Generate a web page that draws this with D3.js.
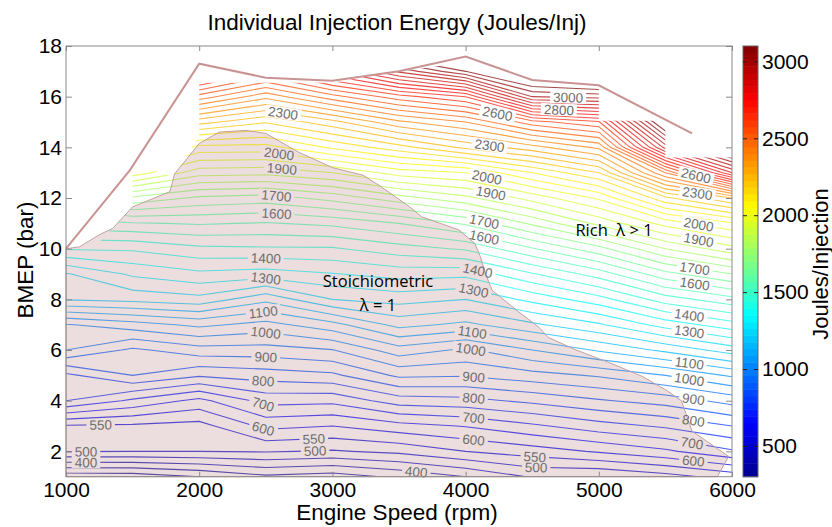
<!DOCTYPE html>
<html>
<head>
<meta charset="utf-8">
<script src="https://cdn.jsdelivr.net/npm/d3@7"></script>
<style>
  body { margin: 0; background: #fff; }
  svg text { font-family: "Liberation Sans", Arial, sans-serif; }
</style>
</head>
<body>
<div id="chart"></div>
<script>
// grid columns (rpm) and rows (bar)
const speeds = [1000, 1500, 2000, 2500, 3000, 3500, 4000, 4500, 5000, 5500, 6000];
const bmepRows = [1, 2, 3, 4, 5, 6, 7, 8, 9, 10, 11, 12, 13, 14, 15, 16, 17, 18];

// injection energy (J/inj) at each bmep row, one array per speed column
const e1000 = [265, 502, 544, 750, 788, 950, 996, 1204, 1245, 1405, 1530, 1660, 1790, 1920, 2050, 2180, 2310, 2440];
const e1500 = [270, 500, 540, 690, 850, 890, 1028, 1216, 1309, 1408, 1545, 1740, 1980, 2150, 2320, 2490, 2660, 2830];
const e2000 = [300, 500, 531, 635, 807, 929, 1062, 1233, 1338, 1438, 1555, 1690, 1872, 2033, 2270, 2528, 2800, 3050];
const e2500 = [340, 504, 614, 718, 824, 929, 1032, 1164, 1327, 1443, 1546, 1676, 1866, 2030, 2205, 2415, 2650, 2900];
const e3000 = [325, 495, 600, 714, 839, 948, 1082, 1250, 1347, 1444, 1562, 1718, 1900, 2109, 2283, 2529, 2800, 3050];
const e3500 = [360, 512, 631, 775, 910, 1028, 1167, 1270, 1370, 1478, 1600, 1780, 1973, 2180, 2389, 2629, 2960, 3250];
const e4000 = [400, 550, 653, 784, 904, 991, 1137, 1250, 1365, 1507, 1658, 1836, 2000, 2262, 2450, 2700, 3100, 3350];
const e4500 = [455, 575, 690, 812, 930, 1050, 1190, 1315, 1445, 1595, 1760, 1920, 2100, 2330, 2580, 3000, 3250, 3450];
const e5000 = [450, 606, 729, 844, 956, 1107, 1243, 1380, 1523, 1683, 1864, 2009, 2200, 2411, 2643, 3020, 3300, 3550];
const e5500 = [480, 640, 758, 871, 1000, 1162, 1321, 1475, 1633, 1800, 1969, 2188, 2500, 2920, 3200, 3400, 3600, 3800];
const e6000 = [520, 693, 800, 919, 1058, 1225, 1379, 1533, 1700, 1882, 2044, 2300, 2850, 3200, 3400, 3600, 3800, 4000];
const columns = [e1000, e1500, e2000, e2500, e3000, e3500, e4000, e4500, e5000, e5500, e6000];

// measured area (contours only drawn inside)
const validSpeed = [1000, 1000, 1220, 1500, 1500, 1650, 1800, 2000, 2000, 2500, 3000, 3500, 4000, 4500, 5000, 5000, 5500, 5500, 6000, 6000];
const validBmep  = [1.0, 10.05, 10.1, 11.65, 13.05, 13.1, 12.85, 14.45, 16.55, 16.55, 16.55, 17.0, 17.35, 16.6, 16.55, 15.05, 15.05, 13.6, 13.6, 1.0];

// full load line
const wotSpeed = [1000, 1480, 2000, 2500, 3000, 3500, 4000, 4500, 5000, 5700];
const wotBmep  = [10.0, 13.1, 17.3, 16.75, 16.63, 17.0, 17.58, 16.66, 16.45, 14.55];

// stoichiometric zone outline
const stoichSpeed = [1000, 1000, 1100, 1250, 1350, 1500, 1780, 1815, 1900, 2000, 2150, 2350, 2500, 2750, 3000, 3230, 3350, 3580, 3670, 3950, 4070, 4110, 4150, 4200, 4400, 4550, 4620, 4830, 5080, 5330, 5510, 5620, 5700, 5975, 5890];
const stoichBmep  = [1.0, 10.0, 10.07, 10.55, 10.8, 11.65, 12.25, 12.95, 13.5, 14.15, 14.6, 14.67, 14.55, 13.8, 13.2, 12.9, 12.5, 11.65, 11.26, 10.74, 10.2, 9.7, 9.0, 8.35, 7.5, 6.9, 6.5, 6.0, 5.5, 4.95, 4.4, 4.0, 2.8, 1.8, 1.0];

// contour labels: level, speed where it sits, rough bmep
const labelLevel = [550, 500, 400, 2300, 2000, 1900, 1700, 1600, 1400, 1300, 1100, 1000, 900, 800, 700, 600, 550, 500, 400,
  3000, 2800, 2600, 2300, 2000, 1900, 1700, 1600, 1400, 1300, 1100, 1000, 900, 800, 700, 600, 550, 500,
  2600, 2300, 2000, 1900, 1700, 1600, 1400, 1300, 1100, 1000, 900, 800, 700, 600];
const labelSpeed = [1260, 1150, 1150, 2630, 2600, 2620, 2580, 2580, 2500, 2500, 2480, 2500, 2500, 2480, 2480, 2480, 2860, 2870, 3630,
  4770, 4700, 4240, 4180, 4160, 4190, 4140, 4140, 4090, 4060, 4050, 4040, 4060, 4060, 4060, 4060, 4520, 4530,
  5730, 5740, 5750, 5750, 5720, 5720, 5680, 5680, 5680, 5680, 5710, 5710, 5700, 5710];
const labelBmep = [3.1, 1.88, 1.39, 15.55, 13.83, 13.17, 12.15, 11.53, 9.58, 8.79, 7.65, 6.69, 5.71, 4.75, 3.8, 2.84, 2.35, 1.86, 1.13,
  15.93, 15.45, 15.47, 14.09, 12.97, 12.32, 11.2, 10.6, 9.22, 8.43, 6.66, 6.07, 4.92, 4.09, 3.3, 2.55, 1.83, 1.37,
  12.78, 12.21, 11.03, 10.34, 9.22, 8.63, 7.38, 6.68, 5.47, 4.88, 4.09, 3.24, 2.29, 1.53];

const xTicks = [1000, 2000, 3000, 4000, 5000, 6000];
const yTicks = [2, 4, 6, 8, 10, 12, 14, 16, 18];
const cbTicks = [500, 1000, 1500, 2000, 2500, 3000];
const levels = d3.range(300, 3101, 50);

const W = 832, H = 527;
const x = d3.scaleLinear().domain([1000, 6000]).range([66, 732]);
const y = d3.scaleLinear().domain([1, 18]).range([476.7, 46]);

// matlab jet
const jet = d3.scaleLinear()
  .domain([0, 0.125, 0.375, 0.625, 0.875, 1].map(t => 300 + t * 2800))
  .range(["#00008f", "#0000ff", "#00ffff", "#ffff00", "#ff0000", "#800000"])
  .clamp(true);

const svg = d3.select("#chart").append("svg")
  .attr("width", W).attr("height", H);
const defs = svg.append("defs");

// grid -> contours
const nx = speeds.length, ny = bmepRows.length;
const values = [];
bmepRows.forEach((b, j) => speeds.forEach((s, i) => values.push(columns[i][j])));
const contours = d3.contours().size([nx, ny]).thresholds(levels)(values);

const gx = d3.scaleLinear().domain([0.5, nx - 0.5]).range([x(speeds[0]), x(speeds[nx - 1])]);
const gy = d3.scaleLinear().domain([0.5, ny - 0.5]).range([y(bmepRows[0]), y(bmepRows[ny - 1])]);
const path = d3.geoPath(d3.geoTransform({
  point(px, py) { this.stream.point(gx(px), gy(py)); }
}));

const validPts = validSpeed.map((s, i) => [x(s), y(validBmep[i])]);
defs.append("clipPath").attr("id", "valid")
  .append("path").attr("d", d3.line()(validPts) + "Z");

// find where a labelled level crosses the given speed
function placeLabel(level, s, b) {
  const c = contours.find(d => d.value === level);
  const px = x(s), hy = y(b);
  let best = null;
  c.coordinates.forEach(poly => poly.forEach(ring => {
    for (let k = 1; k < ring.length; k++) {
      const ax = gx(ring[k - 1][0]), ay = gy(ring[k - 1][1]);
      const bx = gx(ring[k][0]), by = gy(ring[k][1]);
      if (ax === bx || (ax - px) * (bx - px) > 0) continue;
      const py = ay + (px - ax) / (bx - ax) * (by - ay);
      if (!d3.polygonContains(validPts, [px, py])) continue;
      const d = Math.abs(py - hy);
      let ang = Math.atan2(by - ay, bx - ax) * 180 / Math.PI;
      if (ang > 90) ang -= 180;
      if (ang < -90) ang += 180;
      if (!best || d < best.d) best = { x: px, y: py, d, ang };
    }
  }));
  if (!best || best.d > 30) best = { x: px, y: hy, ang: 0 };
  return best;
}

const labels = labelLevel.map((lv, i) => Object.assign({ level: lv }, placeLabel(lv, labelSpeed[i], labelBmep[i])));

// contour lines (clipped to measured area, broken under labels)
const mask = defs.append("mask").attr("id", "gaps")
  .attr("maskUnits", "userSpaceOnUse")
  .attr("x", 0).attr("y", 0).attr("width", W).attr("height", H);
mask.append("rect").attr("width", W).attr("height", H).attr("fill", "white");

const lineLayer = svg.append("g").attr("clip-path", "url(#valid)")
  .append("g").attr("mask", "url(#gaps)");
lineLayer.selectAll("path")
  .data(contours)
  .enter().append("path")
  .attr("d", path)
  .attr("fill", "none")
  .attr("stroke", d => jet(d.value))
  .attr("stroke-opacity", 0.72)
  .attr("stroke-width", 1.1);

// stoichiometric area on top (translucent)
const stoichPts = stoichSpeed.map((s, i) => [x(s), y(stoichBmep[i])]);
svg.append("path")
  .attr("d", d3.line()(stoichPts) + "Z")
  .attr("fill", "rgb(160,90,90)")
  .attr("fill-opacity", 0.2)
  .attr("stroke", "#c4a0a0")
  .attr("stroke-width", 1);

// full load line
svg.append("path")
  .attr("d", d3.line().x((s, i) => x(s)).y((s, i) => y(wotBmep[i]))(wotSpeed))
  .attr("fill", "none")
  .attr("stroke", "#c99393")
  .attr("stroke-width", 2);

// contour labels
const labelG = svg.append("g");
labels.forEach(l => {
  const t = labelG.append("text")
    .attr("transform", `translate(${l.x},${l.y}) rotate(${l.ang})`)
    .attr("text-anchor", "middle")
    .attr("dy", "0.36em")
    .style("font-size", "13.5px")
    .style("fill", "#6e6e6e")
    .text(l.level);
  const w = t.node().getComputedTextLength();
  mask.append("rect")
    .attr("transform", `translate(${l.x},${l.y}) rotate(${l.ang})`)
    .attr("x", -w / 2 - 3).attr("y", -6).attr("width", w + 6).attr("height", 12)
    .attr("fill", "black");
});

// axes frame and ticks
const grey = "#8a8a8a";
function styleAxis(g) {
  g.select(".domain").remove();
  g.selectAll(".tick line").attr("stroke", grey);
  g.selectAll(".tick text").style("font-size", "21px").style("fill", "#000");
}
svg.append("g").attr("transform", "translate(0,476.7)")
  .call(d3.axisBottom(x).tickValues(xTicks).tickSizeInner(-5).tickSizeOuter(0).tickPadding(5).tickFormat(d3.format("d")))
  .call(styleAxis);
svg.append("g").attr("transform", "translate(0,46)")
  .call(d3.axisTop(x).tickValues(xTicks).tickSizeInner(-5).tickSizeOuter(0).tickFormat(""))
  .call(styleAxis);
svg.append("g").attr("transform", "translate(66,0)")
  .call(d3.axisLeft(y).tickValues(yTicks).tickSizeInner(-6).tickSizeOuter(0).tickPadding(4))
  .call(styleAxis);
svg.append("g").attr("transform", "translate(732,0)")
  .call(d3.axisRight(y).tickValues(yTicks).tickSizeInner(-6).tickSizeOuter(0).tickFormat(""))
  .call(styleAxis);
svg.append("rect")
  .attr("x", 66).attr("y", 46).attr("width", 666).attr("height", 430.7)
  .attr("fill", "none").attr("stroke", grey).attr("stroke-width", 1);

// colorbar
const cb = d3.scaleLinear().domain([300, 3100]).range([476.7, 46]);
const nBands = 64;
const bandW = 2800 / nBands;
svg.append("g").selectAll("rect")
  .data(d3.range(nBands))
  .enter().append("rect")
  .attr("x", 743).attr("width", 15)
  .attr("y", i => cb(300 + (i + 1) * bandW))
  .attr("height", i => cb(300 + i * bandW) - cb(300 + (i + 1) * bandW) + 0.5)
  .attr("fill", i => jet(300 + (i + 0.5) * bandW));
svg.append("rect")
  .attr("x", 743).attr("y", 46).attr("width", 15).attr("height", 430.7)
  .attr("fill", "none").attr("stroke", "#666").attr("stroke-width", 1);
const cbAxis = svg.append("g").attr("transform", "translate(758,0)")
  .call(d3.axisRight(cb).tickValues(cbTicks).tickSizeInner(-4).tickSizeOuter(0).tickPadding(4).tickFormat(d3.format("d")));
cbAxis.select(".domain").remove();
cbAxis.selectAll(".tick line").attr("stroke", "#222");
cbAxis.selectAll(".tick text").style("font-size", "21px").style("fill", "#000");
svg.append("g").attr("transform", "translate(743,0)")
  .call(d3.axisLeft(cb).tickValues(cbTicks).tickSizeInner(-4).tickSizeOuter(0).tickFormat(""))
  .call(g => { g.select(".domain").remove(); g.selectAll(".tick line").attr("stroke", "#222"); });

// titles
svg.append("text")
  .attr("x", 397).attr("y", 30)
  .attr("text-anchor", "middle")
  .style("font-size", "22.5px")
  .text("Individual Injection Energy (Joules/Inj)");
svg.append("text")
  .attr("x", 397).attr("y", 520)
  .attr("text-anchor", "middle")
  .style("font-size", "22.5px")
  .text("Engine Speed (rpm)");
svg.append("text")
  .attr("transform", "translate(33,260) rotate(-90)")
  .attr("text-anchor", "middle")
  .style("font-size", "22.5px")
  .text("BMEP (bar)");
svg.append("text")
  .attr("transform", "translate(828,264) rotate(-90)")
  .attr("text-anchor", "middle")
  .style("font-size", "22px")
  .text("Joules/Injection");

// region notes
const note = svg.append("g")
  .style("font-size", "16.5px")
  .style("fill", "#000");
note.append("text").attr("x", 378).attr("y", 287).attr("text-anchor", "middle")
  .style("font-family", "'Open Sans', sans-serif").text("Stoichiometric");
note.append("text").attr("x", 378).attr("y", 311).attr("text-anchor", "middle")
  .style("font-family", "'Open Sans', sans-serif").text("λ = 1");
note.append("text").attr("x", 614).attr("y", 236).attr("text-anchor", "middle")
  .style("font-family", "'Open Sans', sans-serif").style("white-space", "pre").text("Rich  λ > 1");
</script>
</body>
</html>
